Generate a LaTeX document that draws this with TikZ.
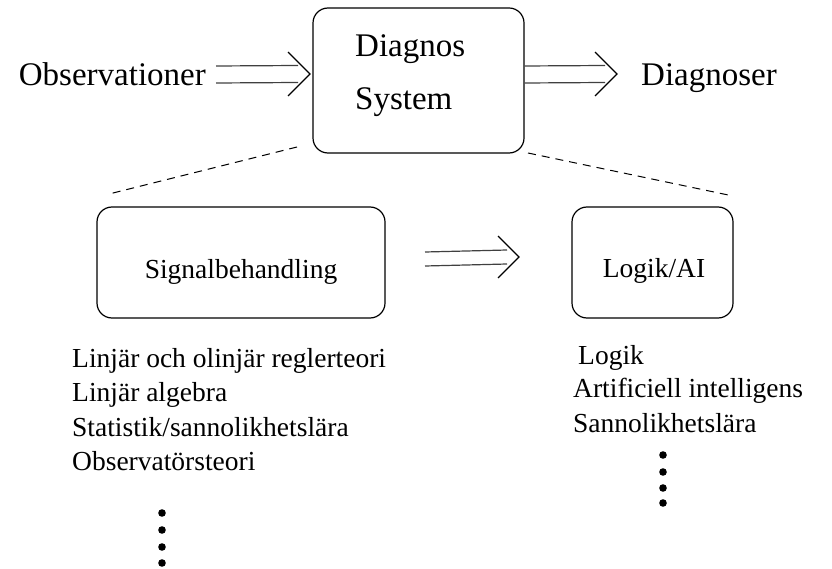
\documentclass[tikz,border=0pt]{standalone}
\usepackage{fontspec}
\setmainfont{Liberation Serif}
\usetikzlibrary{calc}
\tikzset{
  box/.style={draw, line width=1.2pt, rounded corners=15pt, inner sep=0pt},
  big/.style={font=\fontsize{33}{36}\selectfont, inner sep=0pt},
  small/.style={font=\fontsize{27.5}{30}\selectfont, inner sep=0pt},
  arr/.style={line width=1.2pt, draw=black!75},
  dash line/.style={line width=1pt, dash pattern=on 8pt off 6pt},
  dot/.style={fill=black}
}
% #1 start, #2 tip, #3 half gap between lines, #4 head half height
\newcommand\dblarrow[4]{%
  \draw[arr] ($(#1)+(0,-#3)$) -- ($(#2)+(-12,-#3)$);
  \draw[arr] ($(#1)+(0,#3)$) -- ($(#2)+(-12,#3)$);
  \draw[arr, draw=black] ($(#2)+(-#4,-#4)$) -- (#2) -- ($(#2)+(-#4,#4)$);
}
\begin{document}
\begin{tikzpicture}[x=1pt,y=-1pt]
\useasboundingbox (0,0) rectangle (832,569);
% boxes
\node[box, minimum width=211pt, minimum height=145pt] (diag) at (418.5,80.5) {};
\node[box, minimum width=288pt, minimum height=111pt] (sig) at (241,262.5) {};
\node[box, minimum width=161pt, minimum height=111pt] (log) at (652.5,262.5) {};
% box texts
\node[big, anchor=base west] (t1) at (355,57) {Diagnos};
\node[big, anchor=base west] (t2) at (355,110) {System};
\node[small, anchor=base] (t3) at (241,279) {Signalbehandling};
\node[small, anchor=base] (t4) at (654,277) {Logik/AI};
% outer texts
\node[big, anchor=base east] (obs) at (206,86) {Observationer};
\node[big, anchor=base west] (dgs) at (641,86) {Diagnoser};
% arrows
\coordinate (a1s) at (216,74.5);
\coordinate (a1t) at (310,74);
\coordinate (a2s) at (diag.east |- a1s);
\coordinate (a2t) at (617,74);
\coordinate (a3s) at (425,259);
\coordinate (a3t) at (519,257);
\dblarrow{a1s}{a1t}{8.5}{22}
\dblarrow{a2s}{a2t}{8.5}{22}
\dblarrow{a3s}{a3t}{7}{21}
% dashed lines
\coordinate (d1a) at (297,147);
\coordinate (d1b) at (109,194);
\coordinate (d2a) at (528,153);
\coordinate (d2b) at (733,196);
\draw[dash line] (d1a) -- (d1b);
\draw[dash line] (d2a) -- (d2b);
% lists
\node[small, anchor=base west] (l1) at (72,367) {Linjär och olinjär reglerteori};
\node[small, anchor=base west] (l2) at (72,401.5) {Linjär algebra};
\node[small, anchor=base west] (l3) at (72,436) {Statistik/sannolikhetslära};
\node[small, anchor=base west] (l4) at (72,470.5) {Observatörsteori};
\node[small, anchor=base west] (r1) at (578,364) {Logik};
\node[small, anchor=base west] (r2) at (573,397) {Artificiell intelligens};
\node[small, anchor=base west] (r3) at (573,432) {Sannolikhetslära};
% dots
\foreach \yy in {513,530,547,563} \fill[dot] (162,\yy) circle (3.8);
\foreach \yy in {455,472,488,503} \fill[dot] (663,\yy) circle (3.8);
\end{tikzpicture}
\end{document}
